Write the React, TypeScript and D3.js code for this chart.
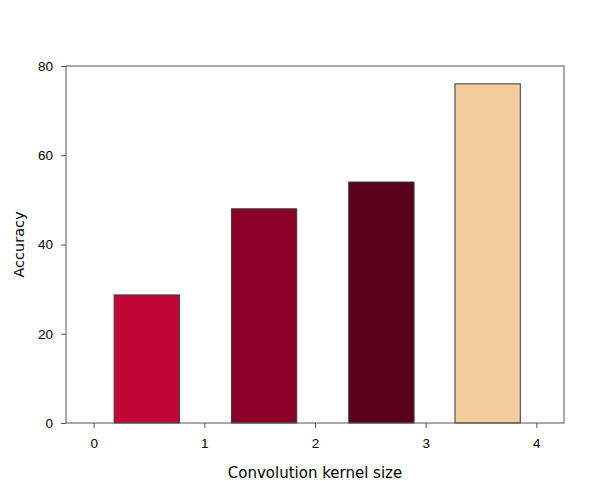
import React, { useEffect, useRef } from "react";
import * as d3 from "d3";

// data
const kernelPos = [0.48, 1.54, 2.6, 3.56];
const accuracy = [28.7, 48, 54, 76];
const barColors = ["#C10534", "#8B0029", "#5A001B", "#F2CB9F"];
const xTicks = [0, 1, 2, 3, 4];
const yTicks = [0, 20, 40, 60, 80];

const font = "'DejaVu Sans', Verdana, sans-serif";
const tickFont = "'Liberation Sans', Arial, sans-serif";

export default function App() {
  const ref = useRef<SVGGElement>(null);
  const width = 599;
  const height = 481;
  const margin = { top: 66, right: 35, bottom: 58, left: 66 };
  const w = width - margin.left - margin.right;
  const h = height - margin.top - margin.bottom;

  useEffect(() => {
    const g = d3.select(ref.current);
    g.selectAll("*").remove();

    const x = d3.scaleLinear().domain([-0.25, 4.25]).range([0, w]);
    const y = d3.scaleLinear().domain([0, 80]).range([h, 0]);
    const barW = x(0.59) - x(0);

    // bars
    g.selectAll(".bar")
      .data(accuracy)
      .enter()
      .append("rect")
      .attr("class", "bar")
      .attr("x", (d, i) => x(kernelPos[i]) - barW / 2)
      .attr("y", d => y(d))
      .attr("width", barW)
      .attr("height", d => h - y(d))
      .attr("fill", (d, i) => barColors[i])
      .attr("stroke", "#3a3a3a")
      .attr("stroke-width", 1);

    // frame
    g.append("rect")
      .attr("x", 0)
      .attr("y", 0)
      .attr("width", w)
      .attr("height", h)
      .attr("fill", "none")
      .attr("stroke", "#555")
      .attr("stroke-width", 1);

    const xAxis = g.append("g")
      .attr("transform", `translate(0, ${h})`)
      .call(d3.axisBottom(x).tickValues(xTicks).tickSize(5).tickPadding(10).tickFormat(d3.format("d")));
    const yAxis = g.append("g")
      .call(d3.axisLeft(y).tickValues(yTicks).tickSize(5).tickPadding(8));

    [xAxis, yAxis].forEach(ax => {
      ax.select(".domain").remove();
      ax.selectAll("line").attr("stroke", "#555");
      ax.selectAll("text")
        .style("font-family", tickFont)
        .style("font-size", "13.5px")
        .attr("fill", "#000");
    });

    g.append("text")
      .text("Convolution kernel size")
      .attr("x", w / 2)
      .attr("y", h + 55)
      .attr("text-anchor", "middle")
      .style("font-family", font)
      .style("font-size", "15px");

    g.append("text")
      .text("Accuracy")
      .attr("transform", `translate(-42, ${h / 2}) rotate(-90)`)
      .attr("text-anchor", "middle")
      .style("font-family", font)
      .style("font-size", "14.5px");
  }, []);

  return (
    <svg width={width} height={height} style={{ position: "absolute", left: 0, top: 0 }}>
      <g ref={ref} transform={`translate(${margin.left}, ${margin.top})`} />
    </svg>
  );
}
